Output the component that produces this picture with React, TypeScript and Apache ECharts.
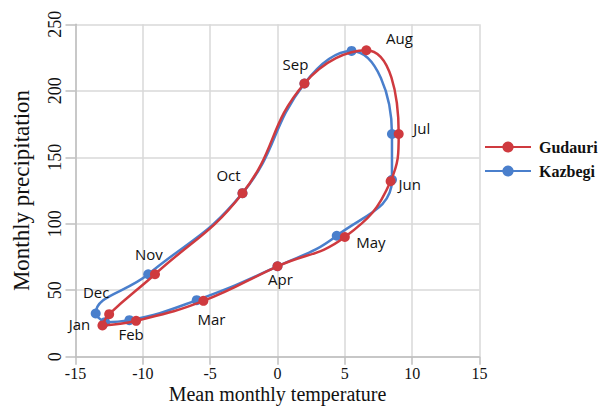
import React, { useEffect, useRef } from "react";
import * as echarts from "echarts";

const months = ["Jan", "Feb", "Mar", "Apr", "May", "Jun", "Jul", "Aug", "Sep", "Oct", "Nov", "Dec"];

const gudauriTemp = [-13.0, -10.5, -5.5, 0.0, 5.0, 8.4, 9.0, 6.6, 2.0, -2.6, -9.1, -12.5];
const gudauriPrecip = [23.5, 27.0, 42.0, 68.0, 90.0, 132.0, 167.5, 230.5, 205.5, 123.0, 62.0, 32.0];

const kazbegiTemp = [-12.8, -11.0, -6.0, 0.0, 4.4, 8.5, 8.5, 5.5, 2.0, -2.6, -9.6, -13.5];
const kazbegiPrecip = [26.0, 27.5, 42.5, 68.0, 91.0, 133.0, 167.5, 230.0, 205.5, 123.0, 62.0, 32.5];

const xTicks = { min: -15, max: 15, interval: 5 };
const yTicks = { min: 0, max: 250, interval: 50 };

// label placement (offset from point centre), layout only
const labelOffset: Record<string, [number, number]> = {
  Jan: [-23, -1],
  Feb: [-5, 13],
  Mar: [8, 18],
  Apr: [3, 13],
  May: [26, 5],
  Jun: [19, 3],
  Jul: [23, -6],
  Aug: [33, -12],
  Sep: [-9, -19],
  Oct: [-14, -18],
  Nov: [-6, -20],
  Dec: [-13, -22],
};

const RED = "#cf3a3f";
const BLUE = "#4a7fcc";

function buildLoop(temps: number[], precs: number[], withLabels: boolean) {
  const pts: any[] = months.map((m, i) => {
    const item: any = { value: [temps[i], precs[i]], name: m };
    if (withLabels) {
      item.label = {
        show: true,
        position: "inside",
        offset: labelOffset[m],
        formatter: m,
        align: "center",
        verticalAlign: "middle",
        color: "#111",
        fontFamily: "Open Sans",
        fontSize: 15,
      };
    }
    return item;
  });
  pts.push({ value: [temps[0], precs[0]], symbolSize: 0, label: { show: false } });
  return pts;
}

export default function App() {
  const ref = useRef<HTMLDivElement>(null);
  useEffect(() => {
    if (!ref.current) return;
    const chart = echarts.init(ref.current, null, { renderer: "svg" });
    const serif = "Liberation Serif";
    chart.setOption({
      animation: false,
      backgroundColor: "#ffffff",
      grid: {
        left: 75.5,
        right: 126.5,
        top: 24.3,
        bottom: 49.3,
        containLabel: false,
        outerBoundsMode: "none",
      },
      legend: {
        data: ["Gudauri", "Kazbegi"],
        orient: "vertical",
        left: 479,
        top: 134,
        itemWidth: 46,
        itemHeight: 14,
        itemGap: 8,
        textStyle: { fontFamily: serif, fontSize: 16, fontWeight: "bold", color: "#111", padding: [0, 0, 0, 3] },
      },
      xAxis: {
        type: "value",
        min: xTicks.min,
        max: xTicks.max,
        interval: xTicks.interval,
        name: "Mean monthly temperature",
        nameLocation: "middle",
        nameGap: 28,
        nameMoveOverlap: false,
        nameTextStyle: { fontFamily: serif, fontSize: 20, lineHeight: 18, color: "#111" },
        axisLine: { show: true, onZero: false, lineStyle: { color: "#bfbfbf", width: 1.5 } },
        axisTick: { show: true, length: 8, lineStyle: { color: "#bfbfbf", width: 1.5 } },
        axisLabel: { fontFamily: serif, fontSize: 16, lineHeight: 14, color: "#111", margin: 10 },
        splitLine: { show: true, lineStyle: { color: "#d9d9d9", width: 1.5 } },
      },
      yAxis: {
        type: "value",
        min: yTicks.min,
        max: yTicks.max,
        interval: yTicks.interval,
        name: "Monthly precipitation",
        nameLocation: "middle",
        nameGap: 43,
        nameMoveOverlap: false,
        nameTextStyle: { fontFamily: serif, fontSize: 23, color: "#111" },
        axisLine: { show: true, onZero: false, lineStyle: { color: "#bfbfbf", width: 1.5 } },
        axisTick: { show: true, length: 10, lineStyle: { color: "#bfbfbf", width: 1.5 } },
        axisLabel: { fontFamily: serif, fontSize: 18, color: "#111", margin: 12, rotate: 90 },
        splitLine: { show: true, lineStyle: { color: "#d9d9d9", width: 1.5 } },
      },
      series: [
        {
          name: "Kazbegi",
          type: "line",
          smooth: 0.45,
          symbol: "circle",
          symbolSize: 10,
          color: BLUE,
          lineStyle: { color: BLUE, width: 2.5 },
          itemStyle: { color: BLUE },
          data: buildLoop(kazbegiTemp, kazbegiPrecip, false),
          z: 2,
        },
        {
          name: "Gudauri",
          type: "line",
          smooth: 0.45,
          symbol: "circle",
          symbolSize: 10,
          color: RED,
          lineStyle: { color: RED, width: 2.5 },
          itemStyle: { color: RED },
          data: buildLoop(gudauriTemp, gudauriPrecip, true),
          z: 3,
        },
      ],
    });
    return () => chart.dispose();
  }, []);
  return (
    <div
      ref={ref}
      style={{ position: "fixed", left: 0, top: 0, width: 606, height: 406, background: "#fff" }}
    />
  );
}
